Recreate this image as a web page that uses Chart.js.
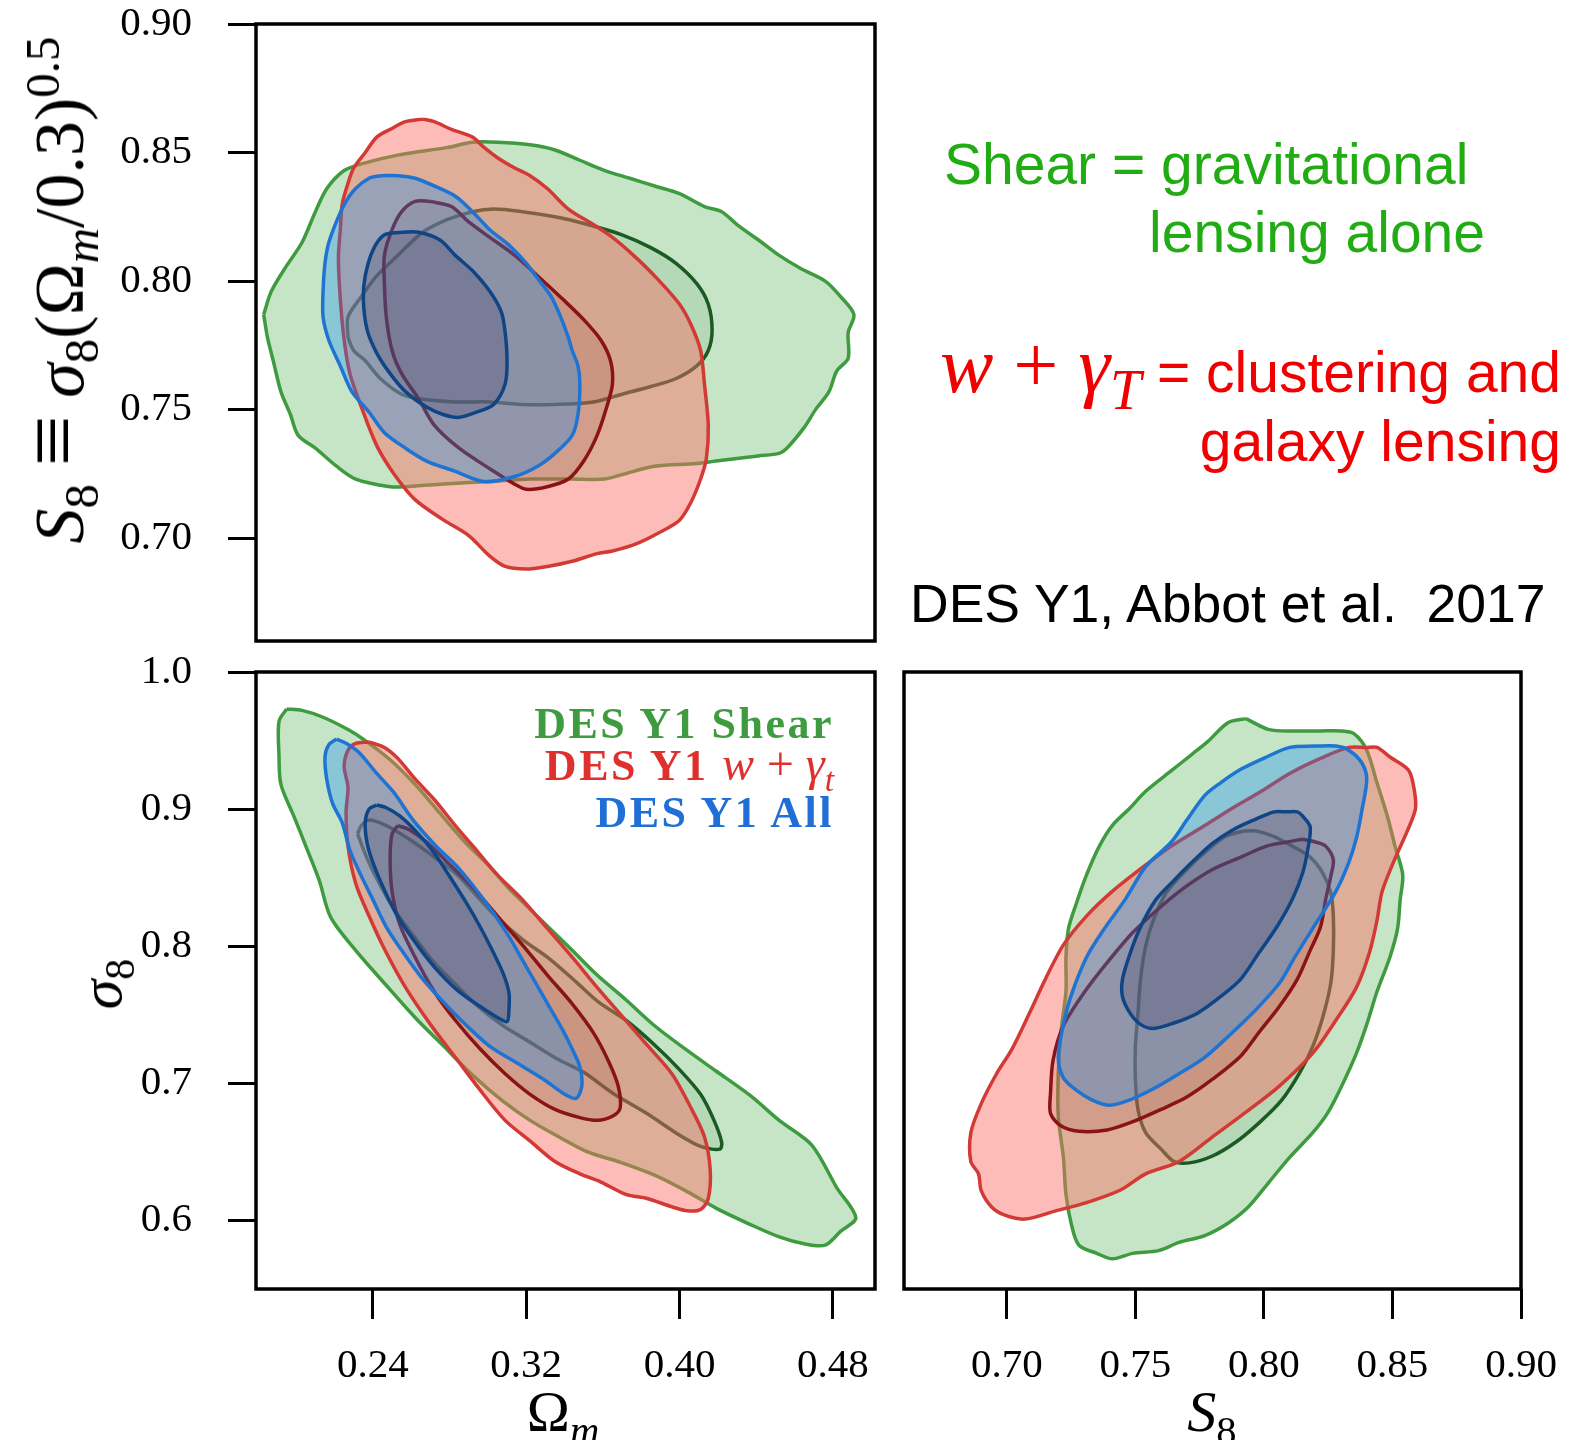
<!DOCTYPE html>
<html>
<head>
<meta charset="utf-8">
<script src="https://cdn.jsdelivr.net/npm/chart.js@4.4.1/dist/chart.umd.min.js"></script>
<style>
  body { margin: 0; background: #fff; width: 1586px; height: 1440px; position: relative; overflow: hidden; }
  canvas { position: absolute; }
  .t { position: absolute; white-space: nowrap; line-height: 1; }
  .sans { font-family: "Liberation Sans", Arial, sans-serif; }
  .serif { font-family: "Liberation Serif", "DejaVu Serif", serif; }
  .math i { font-style: italic; }
  sub, sup { font-size: 0.7em; line-height: 0; }
  .legend { font-family: "Liberation Serif", serif; font-weight: bold; font-size: 44px; letter-spacing: 2.5px; text-align: right; right: 752px; }
  .legend i { font-weight: normal; letter-spacing: 0; font-size: 48px; }
</style>
</head>
<body>
<canvas id="tl" width="880" height="660" style="left:0;top:0"></canvas>
<canvas id="bl" width="880" height="800" style="left:0;top:640px"></canvas>
<canvas id="br" width="706" height="800" style="left:880px;top:640px"></canvas>

<!-- axis titles -->
<div class="t serif math" style="left:60px;top:290px;font-size:70px;transform:translate(-50%,-50%) rotate(-90deg)"><i>S</i><sub>8</sub>&nbsp;<span style="font-size:1.3em;line-height:0">&#8801;</span>&nbsp;<i>&#963;</i><sub>8</sub>(&#937;<sub><i>m</i></sub>/0.3)<sup>0.5</sup></div>
<div class="t serif math" style="left:101px;top:984px;font-size:60px;transform:translate(-50%,-50%) rotate(-90deg)"><i>&#963;</i><sub>8</sub></div>
<div class="t serif math" style="left:563px;top:1412px;font-size:58px;transform:translate(-50%,-50%)">&#937;<sub><i>m</i></sub></div>
<div class="t serif math" style="left:1212px;top:1412px;font-size:58px;transform:translate(-50%,-50%)"><i>S</i><sub>8</sub></div>

<!-- legend inside the lower left panel -->
<div class="t legend" style="top:702px;color:#3f9b3f">DES Y1 Shear</div>
<div class="t legend" style="top:740px;color:#e0302e">DES Y1 <i>w</i><i>&thinsp;+&thinsp;</i><i>&#947;<sub>t</sub></i></div>
<div class="t legend" style="top:791px;color:#1f6fd6">DES Y1 All</div>

<!-- notes on the right -->
<div class="t sans" style="left:944px;top:136px;font-size:57px;color:#22ac14">Shear = gravitational</div>
<div class="t sans" style="right:101px;top:204px;font-size:57px;color:#22ac14">lensing alone</div>
<div class="t sans" style="right:25px;top:344px;font-size:57px;color:#f00000"><span class="serif math" style="font-size:80px;line-height:0"><i>w</i>&nbsp;+&nbsp;<i>&#947;</i><sub><i>T</i></sub></span> = clustering and</div>
<div class="t sans" style="right:25px;top:413px;font-size:57px;color:#f00000">galaxy lensing</div>
<div class="t sans" style="left:910px;top:577px;font-size:53.5px;color:#000">DES Y1, Abbot et al.&nbsp; 2017</div>

<script>
// tick values
const s8Ticks = [0.70, 0.75, 0.80, 0.85, 0.90];
const sigmaTicks = [0.6, 0.7, 0.8, 0.9, 1.0];
const omegaTicks = [0.24, 0.32, 0.40, 0.48];
const omegaRange = [0.179, 0.502];
const s8Range = [0.66, 0.90];
const sigmaRange = [0.55, 1.0];
const seriesNames = ['DES Y1 Shear', 'DES Y1 w + γt', 'DES Y1 All'];

// contours, [x, y] pairs
// Omega_m vs S8
const omS8ShearOuter = [[0.183,0.787],[0.187,0.796],[0.195,0.806],[0.203,0.815],[0.210,0.827],[0.216,0.836],[0.225,0.843],[0.236,0.846],[0.253,0.849],[0.279,0.852],[0.292,0.854],[0.305,0.854],[0.322,0.853],[0.335,0.851],[0.348,0.847],[0.361,0.843],[0.374,0.840],[0.387,0.837],[0.400,0.834],[0.413,0.829],[0.422,0.827],[0.430,0.822],[0.443,0.815],[0.452,0.810],[0.463,0.805],[0.476,0.800],[0.484,0.794],[0.491,0.787],[0.488,0.780],[0.488,0.770],[0.482,0.765],[0.478,0.757],[0.471,0.750],[0.465,0.743],[0.456,0.735],[0.452,0.733],[0.441,0.732],[0.430,0.731],[0.419,0.730],[0.409,0.729],[0.387,0.728],[0.376,0.726],[0.361,0.723],[0.344,0.723],[0.322,0.723],[0.301,0.722],[0.275,0.721],[0.257,0.720],[0.249,0.720],[0.231,0.723],[0.221,0.728],[0.210,0.735],[0.201,0.740],[0.197,0.748],[0.192,0.757],[0.188,0.769],[0.185,0.778]];
const omS8ShearInner = [[0.227,0.778],[0.227,0.786],[0.234,0.794],[0.242,0.802],[0.253,0.810],[0.266,0.819],[0.279,0.824],[0.292,0.827],[0.303,0.828],[0.318,0.827],[0.335,0.825],[0.352,0.822],[0.370,0.818],[0.385,0.813],[0.398,0.807],[0.409,0.799],[0.415,0.791],[0.417,0.781],[0.415,0.773],[0.409,0.767],[0.398,0.762],[0.385,0.759],[0.370,0.756],[0.355,0.753],[0.335,0.752],[0.318,0.752],[0.301,0.753],[0.283,0.753],[0.266,0.754],[0.255,0.756],[0.244,0.762],[0.236,0.769],[0.230,0.773]];
const omS8WgOuter = [[0.266,0.863],[0.257,0.862],[0.249,0.859],[0.242,0.856],[0.236,0.850],[0.230,0.844],[0.227,0.838],[0.224,0.830],[0.223,0.820],[0.222,0.809],[0.223,0.793],[0.225,0.777],[0.228,0.764],[0.234,0.751],[0.242,0.736],[0.251,0.725],[0.262,0.715],[0.277,0.707],[0.290,0.701],[0.301,0.693],[0.309,0.689],[0.320,0.688],[0.331,0.689],[0.344,0.691],[0.357,0.694],[0.365,0.695],[0.378,0.698],[0.389,0.702],[0.400,0.707],[0.406,0.714],[0.411,0.723],[0.414,0.731],[0.415,0.744],[0.413,0.760],[0.411,0.773],[0.406,0.783],[0.400,0.791],[0.387,0.802],[0.376,0.810],[0.365,0.817],[0.355,0.822],[0.342,0.828],[0.331,0.836],[0.322,0.841],[0.314,0.844],[0.305,0.848],[0.298,0.852],[0.292,0.856],[0.281,0.859],[0.272,0.862]];
const omS8WgInner = [[0.270,0.831],[0.262,0.831],[0.255,0.827],[0.250,0.820],[0.246,0.810],[0.246,0.799],[0.247,0.786],[0.250,0.773],[0.255,0.764],[0.264,0.754],[0.272,0.744],[0.285,0.735],[0.301,0.727],[0.314,0.721],[0.320,0.719],[0.331,0.720],[0.342,0.723],[0.350,0.730],[0.357,0.740],[0.362,0.751],[0.365,0.760],[0.364,0.769],[0.359,0.777],[0.350,0.785],[0.339,0.793],[0.326,0.802],[0.314,0.810],[0.301,0.817],[0.290,0.823],[0.281,0.829]];
const omS8AllOuter = [[0.244,0.841],[0.238,0.840],[0.231,0.836],[0.226,0.831],[0.222,0.825],[0.217,0.815],[0.215,0.807],[0.214,0.796],[0.214,0.786],[0.217,0.777],[0.223,0.767],[0.229,0.757],[0.238,0.749],[0.246,0.741],[0.257,0.735],[0.268,0.730],[0.283,0.726],[0.298,0.722],[0.314,0.724],[0.326,0.728],[0.335,0.733],[0.344,0.740],[0.347,0.748],[0.348,0.760],[0.347,0.767],[0.344,0.773],[0.342,0.778],[0.338,0.786],[0.333,0.794],[0.326,0.801],[0.320,0.807],[0.311,0.814],[0.301,0.820],[0.292,0.827],[0.283,0.833],[0.272,0.837],[0.262,0.840],[0.253,0.841]];
const omS8AllInner = [[0.255,0.819],[0.246,0.818],[0.240,0.812],[0.236,0.802],[0.235,0.793],[0.237,0.781],[0.242,0.772],[0.249,0.764],[0.257,0.757],[0.268,0.751],[0.277,0.748],[0.285,0.747],[0.294,0.749],[0.303,0.752],[0.309,0.760],[0.310,0.769],[0.309,0.780],[0.307,0.788],[0.301,0.796],[0.292,0.804],[0.283,0.810],[0.275,0.816],[0.264,0.819]];

// Omega_m vs sigma8
const omSigShearOuter = [[0.195,0.973],[0.203,0.972],[0.214,0.967],[0.227,0.958],[0.236,0.950],[0.249,0.936],[0.262,0.918],[0.275,0.897],[0.288,0.876],[0.301,0.858],[0.311,0.842],[0.322,0.827],[0.333,0.812],[0.344,0.797],[0.357,0.779],[0.372,0.761],[0.387,0.742],[0.404,0.724],[0.419,0.709],[0.437,0.691],[0.452,0.673],[0.469,0.655],[0.482,0.624],[0.492,0.602],[0.484,0.592],[0.476,0.582],[0.465,0.583],[0.452,0.588],[0.437,0.597],[0.419,0.609],[0.404,0.621],[0.387,0.633],[0.370,0.642],[0.352,0.650],[0.337,0.661],[0.322,0.673],[0.307,0.688],[0.292,0.706],[0.277,0.727],[0.262,0.748],[0.246,0.773],[0.231,0.797],[0.218,0.821],[0.212,0.848],[0.205,0.873],[0.199,0.894],[0.192,0.918],[0.191,0.939],[0.191,0.964]];
const omSigShearInner = [[0.232,0.882],[0.234,0.888],[0.238,0.892],[0.247,0.888],[0.259,0.878],[0.273,0.864],[0.284,0.852],[0.294,0.837],[0.304,0.822],[0.318,0.805],[0.332,0.791],[0.346,0.774],[0.358,0.759],[0.372,0.746],[0.387,0.728],[0.400,0.710],[0.411,0.692],[0.418,0.673],[0.422,0.657],[0.421,0.652],[0.411,0.654],[0.398,0.664],[0.383,0.678],[0.365,0.693],[0.350,0.708],[0.336,0.718],[0.322,0.730],[0.308,0.742],[0.294,0.757],[0.284,0.771],[0.272,0.788],[0.261,0.808],[0.252,0.825],[0.244,0.844],[0.237,0.864]];
const omSigWgOuter = [[0.238,0.949],[0.246,0.945],[0.253,0.937],[0.262,0.922],[0.272,0.907],[0.283,0.888],[0.294,0.870],[0.305,0.852],[0.318,0.834],[0.331,0.813],[0.344,0.792],[0.357,0.770],[0.370,0.749],[0.383,0.728],[0.396,0.707],[0.406,0.682],[0.413,0.661],[0.416,0.637],[0.415,0.616],[0.411,0.608],[0.404,0.607],[0.396,0.610],[0.383,0.616],[0.372,0.619],[0.359,0.628],[0.348,0.634],[0.335,0.643],[0.322,0.658],[0.309,0.673],[0.296,0.695],[0.283,0.719],[0.270,0.743],[0.257,0.770],[0.246,0.798],[0.238,0.822],[0.231,0.846],[0.227,0.873],[0.226,0.898],[0.227,0.916],[0.225,0.931],[0.227,0.943],[0.231,0.948]];
const omSigWgInner = [[0.253,0.888],[0.259,0.885],[0.268,0.876],[0.279,0.861],[0.292,0.843],[0.305,0.822],[0.318,0.801],[0.331,0.779],[0.344,0.758],[0.355,0.737],[0.363,0.716],[0.368,0.698],[0.369,0.682],[0.365,0.676],[0.357,0.673],[0.348,0.675],[0.335,0.681],[0.322,0.692],[0.309,0.707],[0.296,0.725],[0.283,0.746],[0.272,0.767],[0.262,0.792],[0.254,0.816],[0.250,0.840],[0.249,0.864],[0.250,0.882]];
const omSigAllOuter = [[0.221,0.951],[0.217,0.947],[0.215,0.938],[0.216,0.921],[0.219,0.904],[0.224,0.890],[0.228,0.870],[0.234,0.851],[0.240,0.834],[0.247,0.814],[0.256,0.795],[0.266,0.776],[0.277,0.759],[0.289,0.742],[0.301,0.727],[0.315,0.715],[0.329,0.703],[0.339,0.693],[0.346,0.689],[0.349,0.698],[0.348,0.712],[0.344,0.725],[0.339,0.739],[0.332,0.756],[0.325,0.773],[0.318,0.790],[0.311,0.807],[0.303,0.824],[0.294,0.841],[0.284,0.858],[0.273,0.873],[0.261,0.892],[0.251,0.912],[0.242,0.926],[0.233,0.941],[0.226,0.948]];
const omSigAllInner = [[0.242,0.903],[0.238,0.900],[0.236,0.890],[0.237,0.875],[0.240,0.861],[0.245,0.844],[0.252,0.824],[0.261,0.805],[0.272,0.785],[0.284,0.768],[0.296,0.756],[0.305,0.748],[0.310,0.745],[0.311,0.754],[0.311,0.766],[0.308,0.780],[0.303,0.795],[0.296,0.814],[0.289,0.831],[0.280,0.851],[0.272,0.868],[0.263,0.883],[0.254,0.895],[0.247,0.901]];

// S8 vs sigma8
const s8SigShearOuter = [[0.793,0.966],[0.802,0.958],[0.812,0.957],[0.822,0.957],[0.830,0.957],[0.835,0.955],[0.840,0.943],[0.844,0.919],[0.848,0.895],[0.851,0.873],[0.854,0.852],[0.853,0.834],[0.852,0.813],[0.849,0.792],[0.844,0.767],[0.840,0.743],[0.836,0.722],[0.831,0.701],[0.825,0.679],[0.819,0.664],[0.810,0.646],[0.802,0.628],[0.794,0.610],[0.786,0.598],[0.777,0.589],[0.767,0.584],[0.759,0.578],[0.749,0.576],[0.741,0.572],[0.735,0.576],[0.728,0.582],[0.725,0.598],[0.723,0.619],[0.722,0.646],[0.720,0.676],[0.720,0.707],[0.721,0.737],[0.723,0.767],[0.723,0.792],[0.724,0.813],[0.727,0.831],[0.731,0.852],[0.736,0.873],[0.741,0.888],[0.748,0.901],[0.754,0.913],[0.764,0.928],[0.772,0.940],[0.778,0.949],[0.786,0.963]];
const s8SigShearInner = [[0.792,0.884],[0.785,0.880],[0.778,0.870],[0.770,0.856],[0.762,0.839],[0.757,0.819],[0.754,0.800],[0.752,0.776],[0.751,0.751],[0.750,0.727],[0.750,0.703],[0.751,0.681],[0.754,0.664],[0.760,0.652],[0.765,0.643],[0.771,0.642],[0.780,0.647],[0.789,0.657],[0.798,0.671],[0.807,0.688],[0.814,0.708],[0.819,0.727],[0.823,0.749],[0.826,0.773],[0.827,0.797],[0.827,0.822],[0.826,0.839],[0.823,0.853],[0.818,0.865],[0.811,0.873],[0.804,0.880],[0.797,0.884]];
const s8SigWgOuter = [[0.840,0.945],[0.833,0.945],[0.822,0.937],[0.810,0.926],[0.799,0.913],[0.788,0.901],[0.777,0.888],[0.764,0.873],[0.751,0.855],[0.741,0.840],[0.731,0.822],[0.722,0.801],[0.715,0.776],[0.709,0.752],[0.702,0.725],[0.696,0.707],[0.690,0.685],[0.686,0.664],[0.686,0.643],[0.689,0.634],[0.690,0.622],[0.694,0.610],[0.699,0.604],[0.707,0.601],[0.719,0.607],[0.731,0.613],[0.744,0.622],[0.754,0.634],[0.767,0.643],[0.780,0.661],[0.793,0.679],[0.806,0.698],[0.819,0.722],[0.828,0.746],[0.836,0.770],[0.841,0.795],[0.844,0.819],[0.846,0.840],[0.851,0.864],[0.856,0.885],[0.859,0.901],[0.858,0.919],[0.856,0.929],[0.849,0.938],[0.844,0.945]];
const s8SigWgInner = [[0.815,0.878],[0.809,0.876],[0.801,0.873],[0.791,0.865],[0.780,0.856],[0.770,0.844],[0.760,0.829],[0.749,0.810],[0.739,0.788],[0.730,0.766],[0.722,0.742],[0.718,0.717],[0.717,0.693],[0.717,0.678],[0.721,0.669],[0.728,0.665],[0.739,0.666],[0.749,0.672],[0.760,0.681],[0.770,0.690],[0.780,0.703],[0.791,0.720],[0.798,0.737],[0.806,0.756],[0.813,0.776],[0.818,0.797],[0.822,0.814],[0.824,0.834],[0.826,0.851],[0.827,0.863],[0.824,0.873],[0.820,0.876]];
const s8SigAllOuter = [[0.820,0.946],[0.810,0.945],[0.801,0.938],[0.791,0.929],[0.783,0.919],[0.777,0.910],[0.770,0.892],[0.764,0.876],[0.754,0.858],[0.746,0.834],[0.738,0.813],[0.731,0.792],[0.725,0.764],[0.722,0.743],[0.720,0.719],[0.722,0.704],[0.727,0.695],[0.733,0.688],[0.740,0.684],[0.748,0.688],[0.757,0.696],[0.767,0.707],[0.777,0.719],[0.786,0.734],[0.796,0.752],[0.806,0.773],[0.812,0.792],[0.820,0.816],[0.828,0.840],[0.833,0.861],[0.836,0.879],[0.838,0.898],[0.840,0.922],[0.838,0.934],[0.833,0.943],[0.828,0.946]];
const s8SigAllInner = [[0.809,0.898],[0.804,0.898],[0.796,0.892],[0.788,0.885],[0.780,0.875],[0.773,0.863],[0.765,0.848],[0.758,0.834],[0.752,0.814],[0.748,0.795],[0.745,0.776],[0.745,0.763],[0.748,0.751],[0.752,0.743],[0.757,0.740],[0.765,0.744],[0.774,0.751],[0.783,0.763],[0.791,0.776],[0.798,0.795],[0.805,0.814],[0.811,0.834],[0.815,0.853],[0.817,0.870],[0.818,0.887],[0.815,0.895],[0.813,0.898]];

const styles = {
  shearOuter: { line: '#3f9b3f', fill: 'rgba(45,160,45,0.27)', order: 6 },
  shearInner: { line: '#1b5a22', fill: 'rgba(25,95,35,0.10)', order: 5 },
  wgOuter: { line: '#d33a35', fill: 'rgba(250,110,100,0.46)', order: 4 },
  wgInner: { line: '#8a1414', fill: 'rgba(120,30,30,0.12)', order: 3 },
  allOuter: { line: '#1f73d2', fill: 'rgba(12,136,246,0.33)', order: 2 },
  allInner: { line: '#0f4585', fill: 'rgba(60,50,90,0.22)', order: 1 }
};

function contour(label, pts, st) {
  const data = pts.map(p => ({ x: p[0], y: p[1] }));
  data.push({ x: pts[0][0], y: pts[0][1] });
  return {
    label: label, data: data, showLine: true, fill: 'shape',
    borderColor: st.line, backgroundColor: st.fill, borderWidth: 3.5,
    borderJoinStyle: 'round', pointRadius: 0, tension: 0.3, order: st.order
  };
}

function panelData(so, si, wo, wi, ao, ai) {
  return [
    contour(seriesNames[0], so, styles.shearOuter),
    contour(seriesNames[0], si, styles.shearInner),
    contour(seriesNames[1], wo, styles.wgOuter),
    contour(seriesNames[1], wi, styles.wgInner),
    contour(seriesNames[2], ao, styles.allOuter),
    contour(seriesNames[2], ai, styles.allInner)
  ];
}

// black box round each panel
const frame = {
  id: 'frame',
  afterDatasetsDraw(chart) {
    const a = chart.chartArea, ctx = chart.ctx;
    ctx.save();
    ctx.lineWidth = 3.5;
    ctx.strokeStyle = '#000';
    ctx.strokeRect(a.left, a.top, a.right - a.left, a.bottom - a.top);
    ctx.restore();
  }
};

const tickFont = { family: 'Liberation Serif', size: 41 };

function yAxis(range, ticks, digits, show) {
  return {
    type: 'linear', min: range[0], max: range[1], display: show, bounds: 'data',
    afterBuildTicks: s => { s.ticks = ticks.map(v => ({ value: v })); },
    afterFit: s => { s.width = show ? 256 : 0; s.paddingTop = 0; s.paddingBottom = 0; },
    ticks: { callback: v => v.toFixed(digits), font: tickFont, color: '#000', padding: 36, autoSkip: false },
    grid: { drawOnChartArea: false, drawTicks: true, tickLength: 28, lineWidth: 3, tickWidth: 3, tickColor: '#000' },
    border: { display: false }
  };
}

function xAxis(range, ticks, digits, show) {
  return {
    type: 'linear', min: range[0], max: range[1], display: show, bounds: 'data',
    afterBuildTicks: s => { s.ticks = ticks.map(v => ({ value: v })); },
    afterFit: s => { s.height = show ? 100 : 0; s.paddingLeft = 0; s.paddingRight = 0; },
    ticks: { callback: v => v.toFixed(digits), font: tickFont, color: '#000', padding: 23, autoSkip: false, maxRotation: 0 },
    grid: { drawOnChartArea: false, drawTicks: true, tickLength: 30, lineWidth: 3, tickWidth: 3, tickColor: '#000' },
    border: { display: false }
  };
}

function makeChart(id, datasets, x, y, padding) {
  return new Chart(document.getElementById(id), {
    type: 'scatter',
    data: { datasets: datasets },
    options: {
      responsive: false,
      animation: false,
      layout: { padding: padding },
      plugins: { legend: { display: false }, tooltip: { enabled: false } },
      scales: { x: x, y: y }
    },
    plugins: [frame]
  });
}

makeChart('tl',
  panelData(omS8ShearOuter, omS8ShearInner, omS8WgOuter, omS8WgInner, omS8AllOuter, omS8AllInner),
  xAxis(omegaRange, omegaTicks, 2, false),
  yAxis(s8Range, s8Ticks, 2, true),
  { left: 0, top: 24, right: 5, bottom: 19 });

makeChart('bl',
  panelData(omSigShearOuter, omSigShearInner, omSigWgOuter, omSigWgInner, omSigAllOuter, omSigAllInner),
  xAxis(omegaRange, omegaTicks, 2, true),
  yAxis(sigmaRange, sigmaTicks, 1, true),
  { left: 0, top: 32, right: 5, bottom: 51 });

makeChart('br',
  panelData(s8SigShearOuter, s8SigShearInner, s8SigWgOuter, s8SigWgInner, s8SigAllOuter, s8SigAllInner),
  xAxis(s8Range, s8Ticks, 2, true),
  yAxis(sigmaRange, sigmaTicks, 1, false),
  { left: 24, top: 32, right: 65, bottom: 51 });
</script>
</body>
</html>
